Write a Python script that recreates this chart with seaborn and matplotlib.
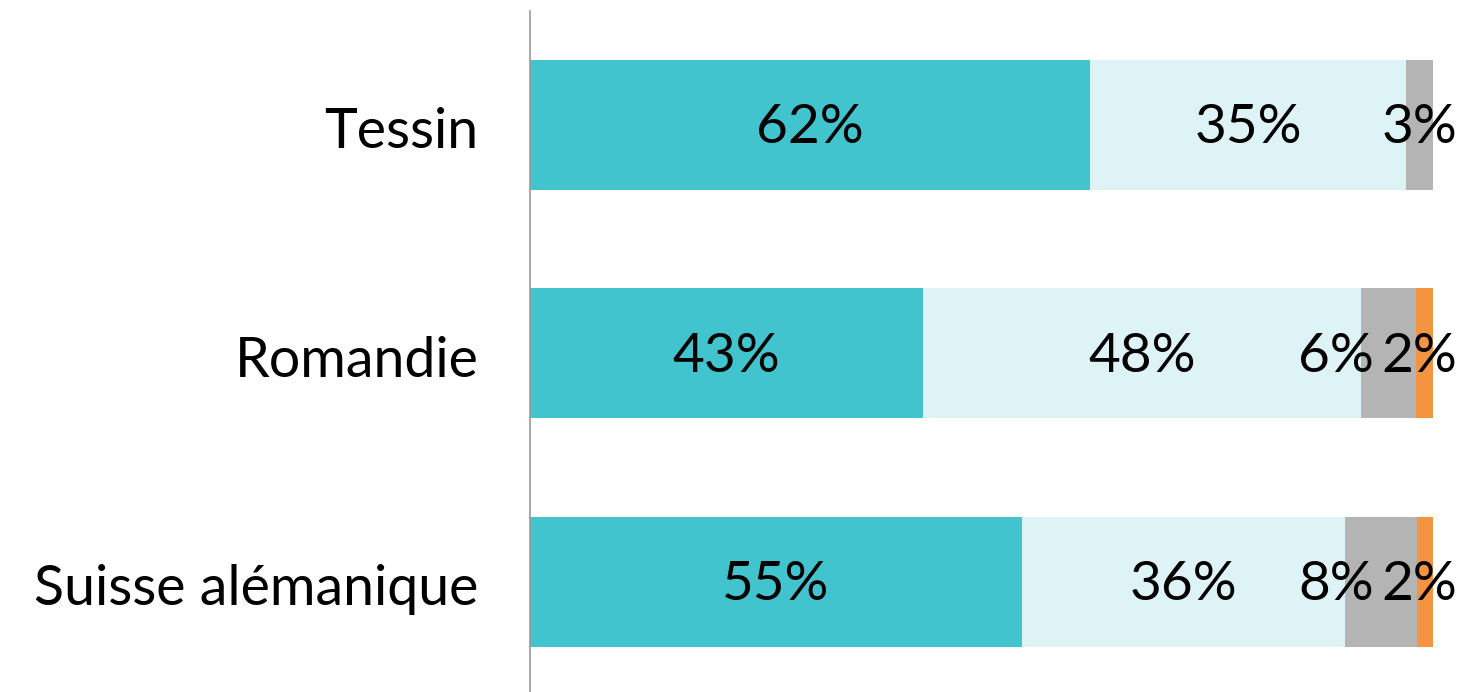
import matplotlib
matplotlib.use("Agg")
import matplotlib.pyplot as plt
import matplotlib.transforms as mtransforms
import seaborn as sns
import numpy as np
import pandas as pd

categories = ["Tessin", "Romandie", "Suisse alémanique"]
series_names = ["s1", "s2", "s3", "s4"]
s1 = [62.0, 43.5, 54.5]
s2 = [35.0, 48.5, 35.7]
s3 = [3.0, 6.1, 8.0]
s4 = [0.0, 1.9, 1.9]
labels1 = ["62%", "43%", "55%"]
labels2 = ["35%", "48%", "36%"]
labels3 = ["3%", "6%", "8%"]
labels4 = ["", "2%", "2%"]

colors = ["#41C4CE", "#DEF3F6", "#B4B4B4", "#F39441"]

sns.set_theme(style="white")
plt.rcParams["font.family"] = ["Lato", "DejaVu Sans"]

fig = plt.figure(figsize=(14.63, 6.92), dpi=100)
ax = fig.add_axes([530 / 1463, -4 / 692, (1433 - 530) / 1463, 685.5 / 692])

vals = np.array([s1, s2, s3, s4])
cum = np.cumsum(vals, axis=0)
df = pd.DataFrame({"cat": categories})
for i in range(len(series_names) - 1, -1, -1):
    df["v"] = cum[i]
    sns.barplot(data=df, x="v", y="cat", orient="h", color=colors[i],
                width=0.57, ax=ax, saturation=1, linewidth=0)

ax.set_xlim(0, 100)
ax.set_ylim(2.5, -0.5)
ax.set_xlabel("")
ax.set_ylabel("")
ax.set_xticks([])
ax.tick_params(axis="y", length=0, pad=37, labelsize=40)
shift = mtransforms.ScaledTranslation(0, -3 / 100, fig.dpi_scale_trans)
for t in ax.get_yticklabels():
    t.set_color("#000000")
    t.set_transform(t.get_transform() + shift)
for side in ["top", "right", "bottom"]:
    ax.spines[side].set_visible(False)
ax.spines["left"].set_color("#999999")
ax.spines["left"].set_linewidth(1.2)

all_labels = [labels1, labels2, labels3, labels4]
max_center = 98.45
sep = 9.2
for j in range(len(categories)):
    centers = []
    texts = []
    left = 0.0
    for i in range(len(series_names)):
        w = vals[i][j]
        if all_labels[i][j]:
            centers.append(left + w / 2)
            texts.append(all_labels[i][j])
        left += w
    centers[-1] = min(centers[-1], max_center)
    for k in range(len(centers) - 2, -1, -1):
        centers[k] = min(centers[k], centers[k + 1] - sep)
    for c, t in zip(centers, texts):
        ax.text(c, j, t, ha="center", va="center", fontsize=39.5,
                color="#000000", clip_on=False,
                transform=ax.transData + shift)

fig.savefig("out.png", dpi=100)
